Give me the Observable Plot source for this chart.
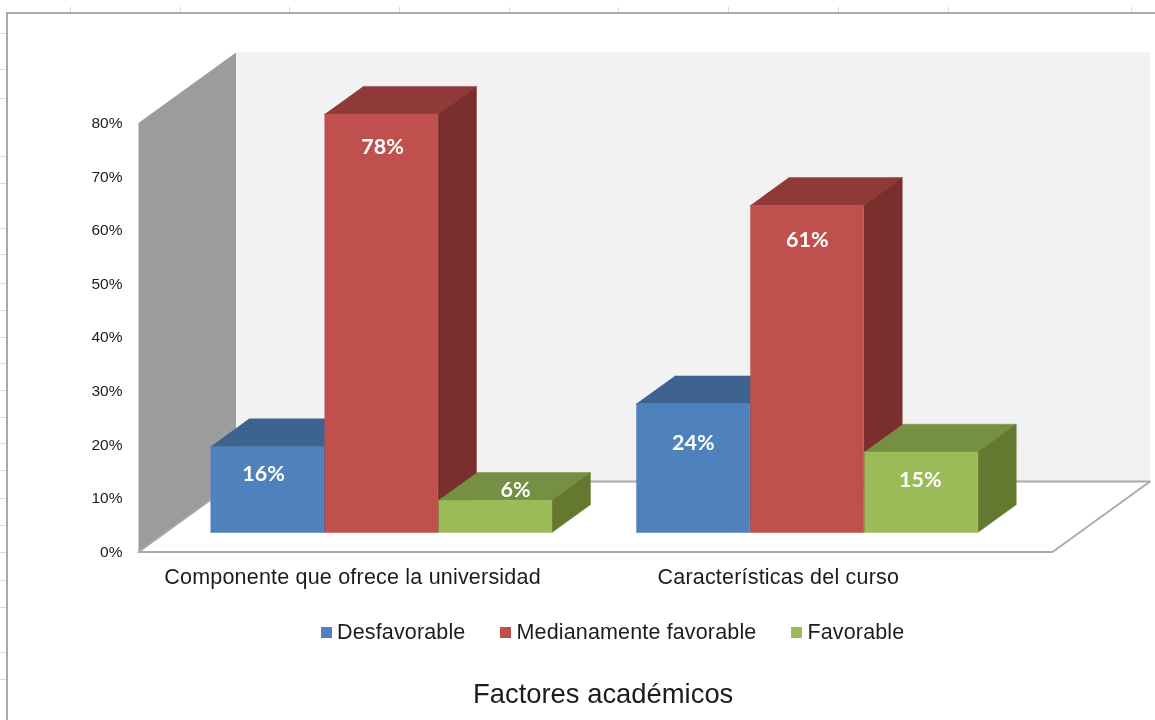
<!DOCTYPE html>
<html><head><meta charset="utf-8">
<script src="https://cdn.jsdelivr.net/npm/d3@7"></script>
<script src="https://cdn.jsdelivr.net/npm/@observablehq/plot@0.6"></script>
<style>
html,body{margin:0;background:#fff;overflow:hidden}
#page{position:relative;width:1155px;height:720px;overflow:hidden;font-family:"Liberation Sans",Arial,sans-serif;filter:blur(.35px)}
#frame{position:absolute;left:6px;top:12px;right:-4px;bottom:-4px;border:2px solid #a9a9a9;box-sizing:border-box}
#chart{position:absolute;left:0;top:0}
.stub{position:absolute;background:#d9d9d9}
#legend{position:absolute;left:321px;top:618px;display:flex;align-items:center;font-size:21.5px;color:#1c1c1c;line-height:28px}
#legend i{display:inline-block;width:11px;height:11px;margin-right:5px}
#legend span{display:flex;align-items:center;margin-right:35px;white-space:nowrap}
#legend b{font-weight:400;letter-spacing:.15px}
#axisTitle{position:absolute;left:473px;top:677px;font-size:27.4px;color:#1c1c1c;white-space:nowrap;line-height:34px}
.catlabel{letter-spacing:.2px}
</style></head><body><div id="page"><div id="frame"></div><div id="chart"></div>
<div id="legend"></div><div id="axisTitle"></div></div>
<script>
const categories = ["Componente que ofrece la universidad", "Características del curso"];
const seriesNames = ["Desfavorable", "Medianamente favorable", "Favorable"];
const desfavorable = [16, 24];
const medianamente = [78, 61];
const favorable = [6, 15];
const yTicks = [0, 10, 20, 30, 40, 50, 60, 70, 80];
const axisTitle = "Factores académicos";

const seriesValues = [desfavorable, medianamente, favorable];
const frontColors = ["#4f81bd", "#c0504d", "#9bbb59"];
const topColors = ["#3e6390", "#8f3a38", "#758f43"];
const sideColors = ["#345478", "#7a2f2d", "#64782f"];
// label offset below the front-top edge, in percentage points, per category and series
const labelDrop = [[5.2, 6.2, -1.9], [7.4, 6.5, 5.2]];
// horizontal label nudge, in pixels, per category and series
const labelShift = [[-4, 1, 20], [0, 0, -1]];

// spreadsheet gridline stubs showing around the embedded chart
const sheetCols = [70, 180, 289, 399, 509, 618, 728, 838, 948, 1131];
const sheetRows = [33, 69, 98, 156, 183, 228, 254, 283, 310, 337, 363, 390, 417, 443, 470, 498, 525, 552, 580, 607, 652, 679];

// 3-D projection: a point at depth z (0 front, 1 back) shifts by z*DX bar widths and z*DY points
const DX = 97.5 / 114, DY = 70.5 / 5.3625;
const xMax = 914 / 114;
const barDepth = [0.2766, 0.6716];
const barWidth = 0.995;
const groupStart = [0.395, 4.13];
const project = (x, y, z) => ({x: x + z * DX, y: y + z * DY});

const pushTo = (arr, id, fill, corners) => corners.forEach(([x, y, z]) => arr.push({id, fill, ...project(x, y, z)}));

// walls and floor
const wallPts = [];
pushTo(wallPts, "back", "#f2f2f2", [[0,0,1],[xMax,0,1],[xMax,80,1],[0,80,1]]);
pushTo(wallPts, "left", "#9c9c9c", [[0,0,0],[0,0,1],[0,80,1],[0,80,0]]);
const floorPts = [];
pushTo(floorPts, "floor", "#ffffff", [[0,0,0],[0,0,1],[xMax,0,1],[xMax,0,0],[0,0,0]]);

const points = [];
const labels = [];
categories.forEach((c, g) => {
  seriesValues.forEach((vals, s) => {
    const v = vals[g], x0 = groupStart[g] + s, x1 = x0 + barWidth, [z0, z1] = barDepth, id = `${g}-${s}`;
    pushTo(points, id + "top", topColors[s], [[x0,v,z0],[x1,v,z0],[x1,v,z1],[x0,v,z1]]);
    pushTo(points, id + "side", sideColors[s], [[x1,0,z0],[x1,0,z1],[x1,v,z1],[x1,v,z0]]);
    pushTo(points, id + "front", frontColors[s], [[x0,0,z0],[x1,0,z0],[x1,v,z0],[x0,v,z0]]);
    const p = project(x0 + 0.5, v - labelDrop[g][s], z0);
    labels.push({x: p.x + labelShift[g][s] / 114, y: p.y, text: `${v}%`});
  });
});

const catData = categories.map((name, g) => ({name, x: groupStart[g] + 1.5}));

const plot = Plot.plot({
  width: 1155, height: 600,
  marginLeft: 138, marginRight: 103, marginTop: 122, marginBottom: 48,
  style: {background: "transparent", overflow: "visible"},
  x: {domain: [0, xMax], range: [138, 1052], axis: null},
  y: {domain: [0, 80], range: [551.5, 122.5], axis: null},
  color: {type: "identity"},
  marks: [
    Plot.line(wallPts, {x: "x", y: "y", z: "id", fill: "fill", stroke: null}),
    Plot.line(floorPts, {x: "x", y: "y", z: "id", fill: "fill", stroke: "#a9a9a9", strokeWidth: 1.8}),
    Plot.line(points, {x: "x", y: "y", z: "id", fill: "fill", stroke: "fill", strokeWidth: 0.5}),
    Plot.axisY({ticks: yTicks, tickFormat: d => d + "%", anchor: "left", tickSize: 0, tickPadding: 16,
      fontSize: 15.5, fill: "#1c1c1c", fontFamily: "Liberation Sans", label: null}),
    Plot.text(catData, {x: "x", y: () => 0, text: "name", dx: -2, dy: 25.5, fontSize: 21.5, fill: "#1c1c1c",
      fontFamily: "Liberation Sans", className: "catlabel"}),
    Plot.text(labels, {x: "x", y: "y", text: "text", fill: "#fff", fontSize: 21.5, fontWeight: 700, fontFamily: "Lato"})
  ]
});
document.getElementById("chart").append(plot);

const page = document.getElementById("page");
sheetCols.forEach(x => {
  const d = document.createElement("div"); d.className = "stub";
  d.style.cssText = `left:${x}px;top:7px;width:1px;height:5px`; page.append(d);
});
sheetRows.forEach(y => {
  const d = document.createElement("div"); d.className = "stub";
  d.style.cssText = `left:0;top:${y}px;width:6px;height:1px`; page.append(d);
});

const legend = document.getElementById("legend");
seriesNames.forEach((n, i) => {
  const s = document.createElement("span");
  s.innerHTML = `<i style="background:${frontColors[i]}"></i><b>${n}</b>`;
  legend.append(s);
});
document.getElementById("axisTitle").textContent = axisTitle;
</script></body></html>
